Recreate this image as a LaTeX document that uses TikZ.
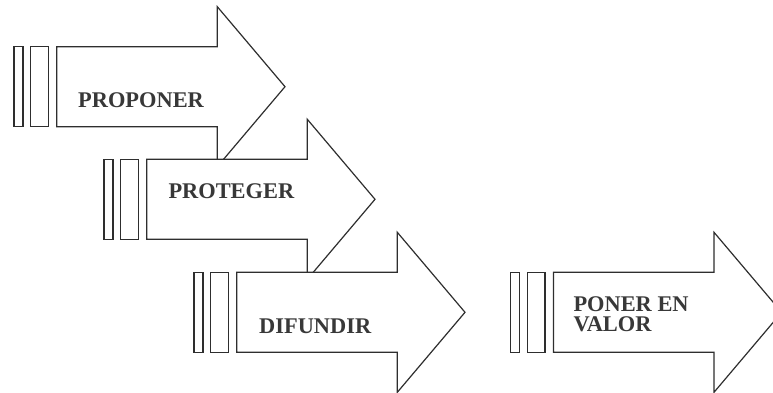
\documentclass[tikz,border=0pt]{standalone}
\usepackage{fontspec}
\setmainfont{Liberation Serif}
\begin{document}
\begin{tikzpicture}[x=1pt,y=-1pt,
  arrowline/.style={draw=black!82,line width=1.2pt,fill=white,line join=miter},
  lbl/.style={font=\fontsize{22.4}{19.4}\selectfont\bfseries,text=black!78,inner sep=0pt,anchor=base west,align=left},
  bigarrow/.pic={
    \path[arrowline] (0,0) rectangle (9,80);
    \path[arrowline] (16.8,0) rectangle (34.3,80);
    \path[arrowline] (42.7,0) -- (203.3,0) -- (203.3,-40) -- (271,40) -- (203.3,120) -- (203.3,80) -- (42.7,80) -- cycle;
  }]
\useasboundingbox (0,0) rectangle (773,393);
\clip (0,0) rectangle (773,393);
\pic (a1) at (14,46.7) {bigarrow};
\node[lbl] (t1) at (78,107.3) {PROPONER};
\pic (a2) at (104,159.3) {bigarrow};
\node[lbl] (t2) at (168.3,198.3) {PROTEGER};
\pic (a3) at (194,272.3) {bigarrow};
\node[lbl] (t3) at (259,333.3) {DIFUNDIR};
\pic (a4) at (510.7,272.3) {bigarrow};
\node[lbl] (t4) at (573.3,331) {PONER EN\\VALOR};
\end{tikzpicture}
\end{document}
